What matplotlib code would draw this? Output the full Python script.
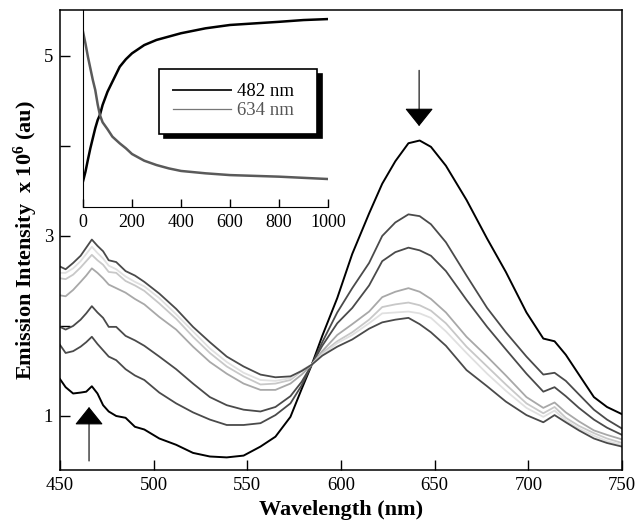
import matplotlib
matplotlib.use("Agg")
from matplotlib import pyplot as plt
from matplotlib.lines import Line2D

plt.rcParams['font.family'] = 'Liberation Serif'
plt.rcParams['mathtext.fontset'] = 'custom'
plt.rcParams['mathtext.rm'] = 'Liberation Serif'
plt.rcParams['mathtext.bf'] = 'Liberation Serif:bold'

# wavelength grid (nm)
wl = [450, 453, 457, 461, 464, 467, 470, 473, 476, 480, 485, 490, 495, 503,
      512, 521, 530, 539, 548, 557, 565, 573, 579, 584.4, 590, 598, 606, 615,
      622, 629, 636, 642, 648, 656, 667, 678, 688, 699, 708, 714, 720, 727,
      735, 742, 750]

# emission spectra, x 10^6 au
spec0 = [1.41, 1.32, 1.25, 1.26, 1.27, 1.33, 1.25, 1.12, 1.05, 1.00, 0.98, 0.88,
         0.85, 0.75, 0.68, 0.59, 0.55, 0.54, 0.56, 0.66, 0.77, 0.99, 1.30, 1.57,
         1.89, 2.31, 2.80, 3.25, 3.58, 3.83, 4.03, 4.06, 3.99, 3.78, 3.40, 2.97,
         2.60, 2.15, 1.86, 1.83, 1.68, 1.46, 1.21, 1.10, 1.02]
spec1 = [1.79, 1.70, 1.72, 1.77, 1.82, 1.88, 1.80, 1.73, 1.66, 1.62, 1.52, 1.45,
         1.40, 1.26, 1.14, 1.04, 0.96, 0.90, 0.90, 0.92, 1.01, 1.14, 1.34, 1.57,
         1.82, 2.15, 2.42, 2.70, 3.00, 3.15, 3.24, 3.22, 3.13, 2.93, 2.56, 2.20,
         1.93, 1.66, 1.46, 1.48, 1.39, 1.24, 1.07, 0.96, 0.86]
spec2 = [1.99, 1.96, 2.00, 2.07, 2.14, 2.22, 2.15, 2.09, 1.99, 1.99, 1.89, 1.84,
         1.78, 1.66, 1.52, 1.36, 1.21, 1.12, 1.07, 1.05, 1.10, 1.22, 1.38, 1.57,
         1.78, 2.03, 2.20, 2.45, 2.72, 2.82, 2.87, 2.84, 2.78, 2.61, 2.29, 1.99,
         1.74, 1.47, 1.27, 1.32, 1.22, 1.09, 0.96, 0.87, 0.79]
spec3 = [2.34, 2.33, 2.40, 2.49, 2.56, 2.64, 2.59, 2.53, 2.46, 2.42, 2.37, 2.30,
         2.24, 2.10, 1.96, 1.77, 1.60, 1.47, 1.36, 1.29, 1.29, 1.36, 1.46, 1.57,
         1.72, 1.90, 2.02, 2.16, 2.32, 2.38, 2.42, 2.38, 2.30, 2.15, 1.88, 1.66,
         1.45, 1.21, 1.09, 1.15, 1.04, 0.94, 0.84, 0.79, 0.74]
spec4 = [2.53, 2.52, 2.57, 2.65, 2.72, 2.79, 2.73, 2.68, 2.60, 2.59, 2.50, 2.45,
         2.39, 2.25, 2.08, 1.88, 1.70, 1.55, 1.44, 1.35, 1.36, 1.40, 1.50, 1.57,
         1.70, 1.83, 1.93, 2.07, 2.21, 2.24, 2.26, 2.23, 2.17, 2.03, 1.77, 1.55,
         1.35, 1.14, 1.03, 1.10, 0.98, 0.89, 0.81, 0.75, 0.70]
spec5 = [2.59, 2.59, 2.64, 2.72, 2.80, 2.88, 2.81, 2.75, 2.67, 2.63, 2.55, 2.49,
         2.44, 2.31, 2.13, 1.94, 1.75, 1.60, 1.48, 1.40, 1.39, 1.42, 1.51, 1.57,
         1.68, 1.81, 1.90, 2.03, 2.14, 2.15, 2.16, 2.14, 2.09, 1.94, 1.70, 1.47,
         1.28, 1.09, 0.99, 1.06, 0.95, 0.86, 0.78, 0.72, 0.68]
spec6 = [2.66, 2.63, 2.70, 2.78, 2.87, 2.96, 2.89, 2.83, 2.73, 2.71, 2.61, 2.56,
         2.49, 2.36, 2.19, 1.99, 1.82, 1.66, 1.55, 1.46, 1.43, 1.44, 1.50, 1.57,
         1.67, 1.77, 1.85, 1.97, 2.04, 2.07, 2.09, 2.02, 1.93, 1.78, 1.51, 1.33,
         1.16, 1.01, 0.93, 1.01, 0.93, 0.84, 0.75, 0.70, 0.66]
spectra = [spec0, spec1, spec2, spec3, spec4, spec5, spec6]
spec_colors = ['black', '#4a4a4a', '#4a4a4a', '#a8a8a8', '#c8c8c8', '#e0e0e0', '#4a4a4a']

# inset kinetics (time, normalised intensity)
t_kin = [0, 10, 20, 30, 40, 50, 60, 69, 80, 100, 120, 150, 175, 200, 250, 300,
         350, 400, 500, 600, 700, 800, 900, 1000]
i482 = [0.13, 0.179, 0.24, 0.298, 0.349, 0.40, 0.442, 0.467, 0.518, 0.585, 0.636,
        0.712, 0.75, 0.78, 0.822, 0.848, 0.865, 0.882, 0.907, 0.924, 0.932, 0.94,
        0.949, 0.954]
i634 = [0.89, 0.83, 0.763, 0.704, 0.645, 0.594, 0.52, 0.467, 0.43, 0.395, 0.357,
        0.323, 0.298, 0.269, 0.235, 0.213, 0.196, 0.183, 0.171, 0.162, 0.158,
        0.154, 0.148, 0.142]

fig = plt.figure(figsize=(6.38, 5.26), dpi=100)
ax = fig.add_axes([60/638, 1-470/526, 562/638, 460/526])

for s, c in zip(spectra, spec_colors):
    ax.plot(wl, s, color=c, lw=1.4 if c == 'black' else 1.3)

ax.set_xlim(450, 750)
ax.set_ylim(0.4, 5.51)
ax.set_xticks([450, 500, 550, 600, 650, 700, 750])
ax.set_yticks([1, 2, 3, 4, 5])
ax.set_yticklabels(['1', '', '3', '', '5'])
ax.tick_params(direction='in', length=7.5, width=1, labelsize=13.5, pad=5)
for sp in ax.spines.values():
    sp.set_linewidth(1.1)
ax.set_xlabel('Wavelength (nm)', fontsize=16, fontweight='bold', labelpad=4)
ax.set_ylabel(r'Emission Intensity  x $\mathbf{10^6}$ (au)', fontsize=16,
              fontweight='bold')
ax.yaxis.set_label_coords(-0.035, 0.5)

# arrows
arrow_style = '-|>,head_length=1.15,head_width=0.92'
ax.annotate('', xy=(641.7, 4.22), xytext=(641.7, 4.84),
            arrowprops=dict(arrowstyle=arrow_style, color='black', lw=0.8,
                            shrinkA=0, shrinkB=0, mutation_scale=10))
ax.annotate('', xy=(465.5, 1.10), xytext=(465.5, 0.50),
            arrowprops=dict(arrowstyle=arrow_style, color='black', lw=0.8,
                            shrinkA=0, shrinkB=0, mutation_scale=10))

# inset
ax_in = fig.add_axes([83/638, 1-207/526, 245/638, 197/526])
ax_in.patch.set_visible(False)
ax_in.plot(t_kin, i482, color='black', lw=1.8)
ax_in.plot(t_kin, i634, color='#5a5a5a', lw=1.8)
ax_in.set_xlim(0, 1000)
ax_in.set_ylim(0, 1)
ax_in.spines['top'].set_visible(False)
ax_in.spines['right'].set_visible(False)
ax_in.set_yticks([])
ax_in.set_xticks([0, 200, 400, 600, 800, 1000])
ax_in.tick_params(direction='in', length=6, width=1, labelsize=13, pad=5)

handles = [Line2D([], [], color='#222222', lw=1.4),
           Line2D([], [], color='#777777', lw=0.9)]
leg = ax_in.legend(handles, ['482 nm', '634 nm'], loc='upper left',
                   bbox_to_anchor=(0.311, 0.382, 0.643, 0.317), mode='expand',
                   fontsize=13.5, frameon=True, fancybox=False,
                   edgecolor='black', framealpha=1, borderpad=0.75,
                   labelspacing=0.1, handlelength=3.1, handletextpad=0.3,
                   borderaxespad=0,
                   shadow={'ox': 3.5, 'oy': -3.5, 'facecolor': 'black',
                           'edgecolor': 'black', 'alpha': 1},
                   labelcolor=['black', '#555555'])
leg.get_frame().set_linewidth(1.2)

fig.savefig('out.png', dpi=100)
